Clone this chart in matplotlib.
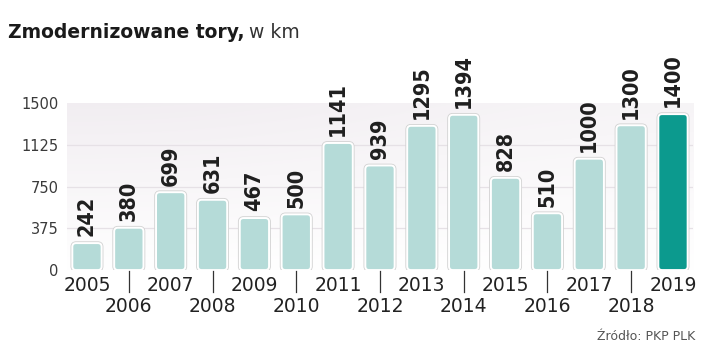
import numpy as np
import matplotlib.pyplot as plt
from matplotlib.patches import FancyBboxPatch
from matplotlib.colors import LinearSegmentedColormap

years = [2005, 2006, 2007, 2008, 2009, 2010, 2011, 2012, 2013, 2014, 2015, 2016, 2017, 2018, 2019]
km = [242, 380, 699, 631, 467, 500, 1141, 939, 1295, 1394, 828, 510, 1000, 1300, 1400]
yticks = [0, 375, 750, 1125, 1500]

light = '#b5dbd8'
dark = '#0c9a8e'

fig = plt.figure(figsize=(7.2, 3.62), dpi=100)
ax = fig.add_axes([0.093, 0.254, 0.8695, 0.4615])
ax.set_xlim(-0.478, 14.478)
ax.set_ylim(0, 1500)

# background panel with soft gradient
grad = np.linspace(1, 0, 256).reshape(-1, 1)
grad = np.hstack([grad, grad * 0.6])
cmap = LinearSegmentedColormap.from_list('bg', ['#ffffff', '#f1edf1'])
ax.imshow(grad, extent=[-0.478, 14.478, 0, 1520], aspect='auto', cmap=cmap,
          zorder=0, interpolation='bicubic')
for v in yticks[1:-1]:
    ax.axhline(v, color='#e6e1e6', lw=0.9, zorder=1)

x = np.arange(len(years))
bars = ax.bar(x, km, width=0.7, color='none', edgecolor='none')
# pixel scaling for rounded corners
asp = (1500 / 167) / (1 / 41.86)
numfont = ['DejaVu Sans Condensed', 'Liberation Sans Narrow', 'DejaVu Sans']
for i, b in enumerate(bars):
    c = dark if i == len(years) - 1 else light
    outer = FancyBboxPatch((b.get_x(), 0), b.get_width(), b.get_height(),
                           boxstyle='round,pad=0,rounding_size=0.09',
                           mutation_aspect=asp, facecolor=c,
                           edgecolor='#d2d2d2', lw=2.6, zorder=2)
    inner = FancyBboxPatch((b.get_x(), 0), b.get_width(), b.get_height(),
                           boxstyle='round,pad=0,rounding_size=0.09',
                           mutation_aspect=asp, facecolor=c,
                           edgecolor='white', lw=1.4, zorder=3)
    ax.add_patch(outer)
    ax.add_patch(inner)
    ax.text(b.get_x() + b.get_width() / 2, km[i] + 60, str(km[i]), rotation=90,
            ha='center', va='bottom', fontsize=15.5, fontweight='bold',
            fontstretch='condensed', family=numfont, color='#1f1f1f', zorder=4)

ax.set_yticks(yticks)
ax.set_yticklabels([str(v) for v in yticks], fontsize=10.5, color='#3a3a3a')
ax.tick_params(axis='y', length=0, pad=6)
ax.set_xticks([])
for s in ax.spines.values():
    s.set_visible(False)

# staggered year labels
for i, yr in enumerate(years):
    if i % 2 == 0:
        ax.text(i, -55, str(yr), ha='center', va='top', fontsize=13.5, color='#222222',
                clip_on=False)
    else:
        ax.plot([i, i], [-10, -200], color='#333333', lw=0.9, clip_on=False)
        ax.text(i, -240, str(yr), ha='center', va='top', fontsize=13.5, color='#222222',
                clip_on=False)

t = fig.text(0.011, 0.895, 'Zmodernizowane tory,', fontsize=13.5, fontweight='bold',
             color='#1a1a1a', ha='left', va='baseline')
fig.canvas.draw()
bb = t.get_window_extent()
fig.text((bb.x1 + 5) / fig.bbox.width, 0.895, 'w km', fontsize=13.5, color='#333333',
         ha='left', va='baseline')
fig.text(0.965, 0.06, 'Źródło: PKP PLK', fontsize=9, color='#555555', ha='right',
         va='baseline')

fig.savefig('out.png', dpi=100)
